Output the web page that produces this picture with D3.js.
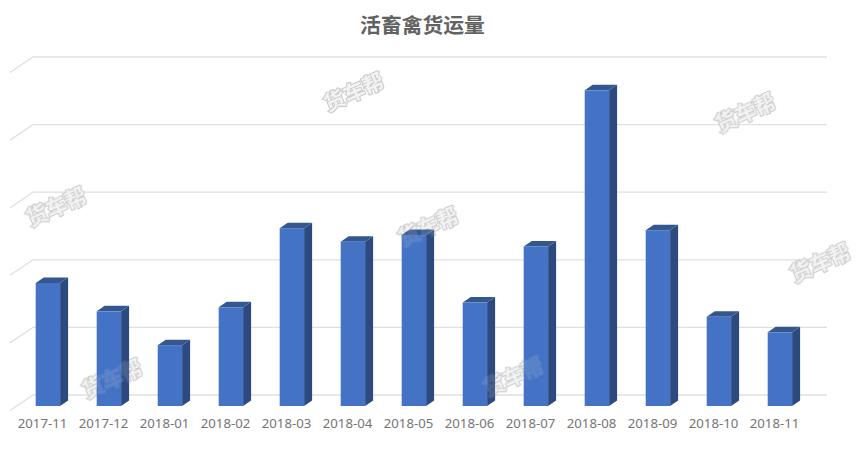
<!DOCTYPE html>
<html><head><meta charset="utf-8">
<script src="https://cdn.jsdelivr.net/npm/d3@7/dist/d3.min.js"></script>
<style>html,body{margin:0;padding:0;background:#fff;overflow:hidden}svg{display:block}</style>
</head><body><svg id="c" width="864" height="449"></svg>
<script>
const title = "活畜禽货运量";
const categories = ["2017-11","2017-12","2018-01","2018-02","2018-03","2018-04","2018-05","2018-06","2018-07","2018-08","2018-09","2018-10","2018-11"];
const values = [1.82,1.40,0.90,1.46,2.63,2.43,2.53,1.53,2.36,4.67,2.60,1.32,1.09];
const gridTicks = [0,1,2,3,4,5];
const watermarkText = "货车帮";
const watermarks = [[354,92],[745,112],[56,206],[428,226],[820,262],[112,378],[513,376]];

const svg = d3.select("#c");
const FONT = "'Noto Sans CJK SC','Liberation Sans',sans-serif";
const depthX = 8, depthY = -5.5;
const x = d3.scaleBand().domain(categories).range([17.4, 810.4]).paddingInner(0.6).paddingOuter(0.3);
const y = d3.scaleLinear().domain([0,5]).range([406, 68]);
const labelX = d3.scalePoint().domain(categories).range([42, 774]);

svg.append("defs").append("filter").attr("id","soft")
  .append("feGaussianBlur").attr("stdDeviation",0.45);

// gridlines on the back wall with a slanted side segment
const g = svg.append("g");
gridTicks.forEach(t => {
  const yb = y(t) - 11;
  g.append("polyline")
    .attr("points", `10,${yb+15.5} 33,${yb} 827,${yb}`)
    .attr("fill","none").attr("stroke","#e0e0e0").attr("stroke-width",1.3);
});

function drawWatermarks(layer, opacity) {
  layer.attr("opacity",opacity).attr("filter","url(#soft)")
    .selectAll("text").data(watermarks).join("text")
    .text(watermarkText)
    .attr("transform",d=>`translate(${d[0]},${d[1]}) rotate(-24)`)
    .attr("text-anchor","middle").attr("dy","0.36em")
    .attr("font-family",FONT).attr("font-size",21).attr("font-weight",700)
    .attr("fill","#f3f3f3")
    .attr("stroke","#cdcdcd").attr("stroke-width",2.2).attr("paint-order","stroke");
}
drawWatermarks(svg.append("g"), 1);

// bars
const bars = svg.append("g").selectAll("g").data(values).join("g");
const bx = (d,i) => x(categories[i]);
const w = x.bandwidth();
bars.append("path").attr("fill","#2c4a80")
  .attr("d",(d,i)=>{const a=bx(d,i)+w,t=y(d),b=y(0);
    return `M${a},${t}L${a+depthX},${t+depthY}L${a+depthX},${b+depthY}L${a},${b}Z`;});
bars.append("path").attr("fill","#34578f")
  .attr("d",(d,i)=>{const a=bx(d,i),t=y(d);
    return `M${a},${t}L${a+depthX},${t+depthY}L${a+w+depthX},${t+depthY}L${a+w},${t}Z`;});
bars.append("rect").attr("fill","#4472c4")
  .attr("x",(d,i)=>bx(d,i)).attr("width",w)
  .attr("y",d=>y(d)).attr("height",d=>y(0)-y(d));

// faint watermark showing through the bars
drawWatermarks(svg.append("g"), 0.14);

// category labels
const ax = svg.append("g").attr("transform","translate(0,415)")
  .call(d3.axisBottom(labelX).tickSize(0).tickPadding(4));
ax.select(".domain").remove();
ax.selectAll("text").attr("font-family","'Noto Sans',sans-serif")
  .attr("font-size",13.2).attr("fill","#757575");

// title
svg.append("text").text(title).attr("x",422.5).attr("y",33).attr("text-anchor","middle")
  .attr("font-family",FONT).attr("font-size",20.8).attr("font-weight",700).attr("fill","#626262");
</script></body></html>
